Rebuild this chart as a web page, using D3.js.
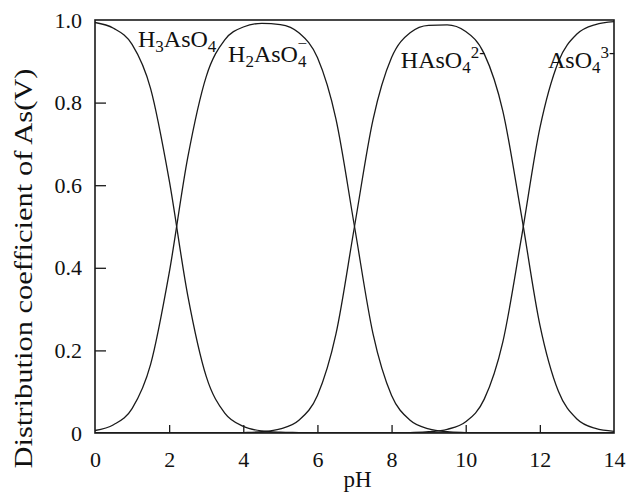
<!DOCTYPE html>
<html>
<head>
<meta charset="utf-8">
<script src="https://cdn.jsdelivr.net/npm/d3@7"></script>
<style>
  body { margin: 0; background: #fff; }
  text { font-family: "Liberation Serif", "Times New Roman", serif; fill: #111; }
</style>
</head>
<body>
<div id="chart"></div>
<script>
// pH values and the fraction of each As(V) species
const pH = [0, 0.5, 1, 1.5, 2, 2.5, 3, 3.5, 4, 4.5, 5, 5.5, 6, 6.5, 7, 7.5,
            8, 8.5, 9, 9.5, 10, 10.5, 11, 11.5, 12, 12.5, 13, 13.5, 14];
const h3aso4 = [0.994, 0.980, 0.941, 0.834, 0.613, 0.334, 0.137, 0.048, 0.016, 0.005, 0.002, 0.001, 0, 0, 0, 0,
                0, 0, 0, 0, 0, 0, 0, 0, 0, 0, 0, 0, 0];
const h2aso4 = [0.006, 0.020, 0.059, 0.166, 0.387, 0.666, 0.863, 0.952, 0.983, 0.992, 0.989, 0.969, 0.909, 0.760, 0.500, 0.240,
                0.091, 0.031, 0.010, 0.003, 0.001, 0, 0, 0, 0, 0, 0, 0, 0];
const haso4 = [0, 0, 0, 0, 0, 0, 0, 0, 0.001, 0.003, 0.010, 0.031, 0.091, 0.240, 0.500, 0.759,
               0.909, 0.969, 0.987, 0.988, 0.972, 0.918, 0.780, 0.529, 0.262, 0.101, 0.034, 0.011, 0.004];
const aso4 = [0, 0, 0, 0, 0, 0, 0, 0, 0, 0, 0, 0, 0, 0, 0, 0,
              0, 0.001, 0.003, 0.009, 0.027, 0.082, 0.220, 0.471, 0.738, 0.899, 0.966, 0.989, 0.996];

const xTicks = [0, 2, 4, 6, 8, 10, 12, 14];
const yTicks = [0, 0.2, 0.4, 0.6, 0.8, 1.0];
const yTickLabels = ["0", "0.2", "0.4", "0.6", "0.8", "1.0"];

// species names: [text, role] pieces
const speciesNames = [
  [["H", ""], ["3", "sub"], ["AsO", ""], ["4", "sub"]],
  [["H", ""], ["2", "sub"], ["AsO", ""], ["4", "sub"], ["\u2212", "supstack"]],
  [["HAsO", ""], ["4", "sub"], ["2-", "sup"]],
  [["AsO", ""], ["4", "sub"], ["3-", "sup"]]
];
const series = [h3aso4, h2aso4, haso4, aso4];

const W = 626, H = 498;
const margin = {top: 20, right: 12, bottom: 65, left: 95},
    width = W - margin.left - margin.right,
    height = H - margin.top - margin.bottom;

const svg = d3.select("#chart").append("svg")
    .attr("width", W)
    .attr("height", H)
  .append("g")
    .attr("transform", `translate(${margin.left},${margin.top})`);

const x = d3.scaleLinear().domain([0, 14]).range([0, width]);
const y = d3.scaleLinear().domain([0, 1]).range([height, 0]);

// clip so the curves stay inside the frame
svg.append("clipPath").attr("id", "clip")
  .append("rect").attr("width", width).attr("height", height);

const line = d3.line()
    .x((d, i) => x(pH[i]))
    .y(d => y(d))
    .curve(d3.curveMonotoneX);

svg.append("g").attr("clip-path", "url(#clip)")
  .selectAll("path")
  .data(series)
  .enter().append("path")
    .attr("fill", "none")
    .attr("stroke", "#1a1a1a")
    .attr("stroke-width", 1.3)
    .attr("d", line);

// frame
svg.append("rect")
    .attr("width", width)
    .attr("height", height)
    .attr("fill", "none")
    .attr("stroke", "#1a1a1a")
    .attr("stroke-width", 1.6);

// bottom axis, ticks pointing inward
const xAxis = svg.append("g")
    .attr("transform", `translate(0,${height})`)
    .call(d3.axisBottom(x).tickValues(xTicks).tickSize(-8).tickPadding(18).tickFormat(d3.format("d")));
xAxis.select(".domain").remove();
xAxis.selectAll("line").attr("stroke", "#1a1a1a").attr("stroke-width", 1.3)
    .filter(d => d === 0 || d === 14).remove();
xAxis.selectAll("text").attr("font-size", 22).attr("fill", "#111")
    .style("font-family", "'Liberation Serif', 'Times New Roman', serif");

// left axis, ticks pointing inward
const yAxis = svg.append("g")
    .call(d3.axisLeft(y).tickValues(yTicks).tickSize(-11).tickPadding(13)
      .tickFormat((d, i) => yTickLabels[i]));
yAxis.select(".domain").remove();
yAxis.selectAll("line").attr("stroke", "#1a1a1a").attr("stroke-width", 1.3)
    .filter(d => d === 0 || d === 1).remove();
yAxis.selectAll("text").attr("font-size", 22).attr("fill", "#111")
    .style("font-family", "'Liberation Serif', 'Times New Roman', serif");

// axis titles
svg.append("text")
    .attr("x", width / 2 + 3)
    .attr("y", height + 54)
    .attr("text-anchor", "middle")
    .attr("font-size", 23)
    .text("pH");

svg.append("text")
    .attr("transform", `translate(${-63},${height / 2 + 42}) rotate(-90)`)
    .attr("text-anchor", "middle")
    .attr("font-size", 25)
    .attr("textLength", 400)
    .attr("lengthAdjust", "spacingAndGlyphs")
    .text("Distribution coefficient of As(V)");

// species labels, anchored in data units (pH, fraction)
const labelAt = [[1.16, 0.935], [3.59, 0.898], [8.25, 0.884], [12.22, 0.884]];
speciesNames.forEach((parts, k) => {
  const t = svg.append("text")
      .attr("x", x(labelAt[k][0]))
      .attr("y", y(labelAt[k][1]))
      .attr("font-size", 24);
  let shift = 0;
  parts.forEach(p => {
    const ts = t.append("tspan").text(p[0]);
    if (p[1] === "sub") {
      ts.attr("font-size", 17).attr("dy", 5 - shift); shift = 5;
    } else if (p[1] === "sup") {
      ts.attr("font-size", 17).attr("dy", -10 - shift); shift = -10;
    } else if (p[1] === "supstack") {
      ts.attr("font-size", 17).attr("dx", -9).attr("dy", -13 - shift); shift = -8;
    } else {
      ts.attr("dy", -shift); shift = 0;
    }
  });
});
</script>
</body>
</html>
